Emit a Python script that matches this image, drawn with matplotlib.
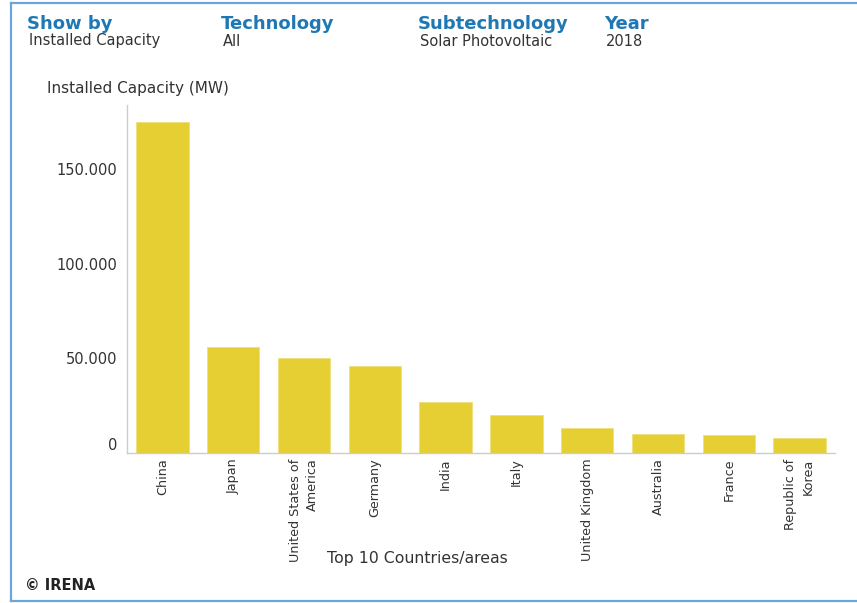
import matplotlib.pyplot as plt
from matplotlib.lines import Line2D

# Solar PV installed capacity, 2018, top 10 countries (MW)
countries = ["China", "Japan", "United States of\nAmerica", "Germany", "India",
             "Italy", "United Kingdom", "Australia", "France", "Republic of\nKorea"]
capacity = [175000, 55800, 50000, 46000, 27100, 20300, 13400, 10200, 9700, 8100]

y_ticks = [0, 50000, 100000, 150000]
y_tick_labels = ["0", "50.000", "100.000", "150.000"]

# filter header: (title, value, x position in px)
filters = [("Show by", "Installed Capacity", 27),
           ("Technology", "All", 221),
           ("Subtechnology", "Solar Photovoltaic", 418),
           ("Year", "2018", 604)]

W, H = 857, 603
BLUE = "#1F78B4"
FRAME = "#6AA6DC"
BAR = "#E5CF33"
TEXT = "#333333"

fig = plt.figure(figsize=(W / 100, H / 100), dpi=100)
fig.patch.set_facecolor("white")


def px(x, y):
    return x / W, 1 - y / H


# frame around the widget (top, left, bottom)
for xs, ys in [((11, W), (3, 3)), ((11, 11), (3, 601)), ((11, W), (601, 601))]:
    p0 = px(xs[0], ys[0])
    p1 = px(xs[1], ys[1])
    fig.add_artist(Line2D([p0[0], p1[0]], [p0[1], p1[1]], color=FRAME, lw=1.6,
                          transform=fig.transFigure))

# header
for title, value, x in filters:
    fig.text(*px(x, 24), title, color=BLUE, fontsize=13, fontweight="bold",
             va="center", ha="left")
    fig.text(*px(x + 2, 41), value, color=TEXT, fontsize=10.5, va="center", ha="left")

# chart
ax = fig.add_axes([127 / W, 150 / H, 708 / W, 348 / H])
x = range(len(countries))
ax.bar(x, capacity, width=0.74, color=BAR, edgecolor="#EEE07C", linewidth=0.6)

ax.set_xlim(-0.5, len(countries) - 0.5)
ax.set_ylim(0, 184000)
ax.set_yticks(y_ticks)
ax.set_yticklabels(y_tick_labels, fontsize=10.5, color=TEXT)
ax.set_xticks(list(x))
ax.set_xticklabels(countries, rotation=90, fontsize=9.2, color=TEXT,
                   va="top", ha="center", multialignment="right", linespacing=1.45)
ax.get_yticklabels()[0].set_va("bottom")
ax.tick_params(axis="both", length=0)
ax.tick_params(axis="y", pad=7)
ax.tick_params(axis="x", pad=4)

for side in ["top", "right"]:
    ax.spines[side].set_visible(False)
for side in ["left", "bottom"]:
    ax.spines[side].set_color("#CCCCCC")
    ax.spines[side].set_linewidth(1.0)

fig.text(*px(47, 89), "Installed Capacity (MW)", fontsize=11, color=TEXT,
         ha="left", va="center")
fig.text(*px(417, 558), "Top 10 Countries/areas", fontsize=11.3, color=TEXT,
         ha="center", va="center")
fig.text(*px(25, 585), "\u00a9 IRENA", fontsize=10.5, fontweight="bold",
         color="#222222", ha="left", va="center")

fig.savefig("out.png", dpi=100, facecolor="white")
